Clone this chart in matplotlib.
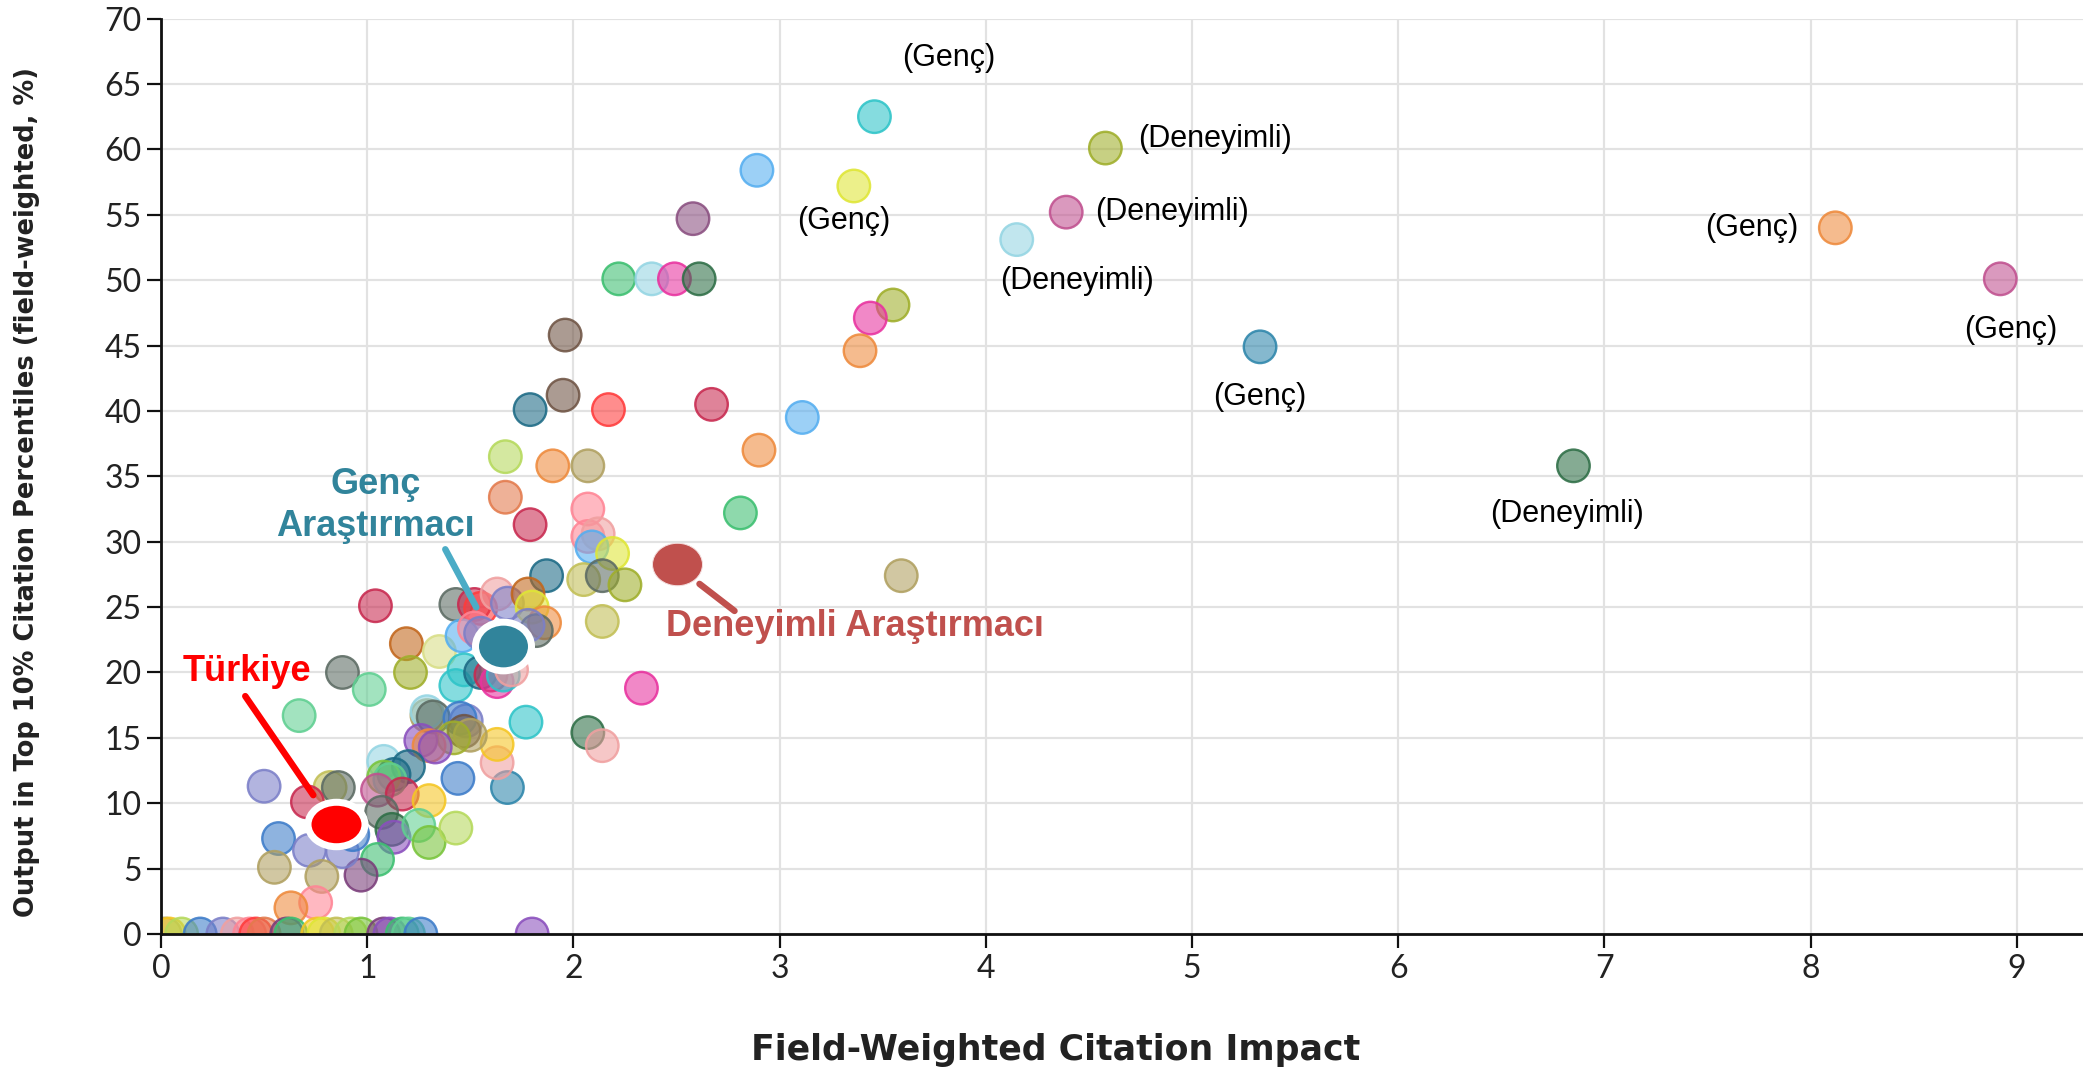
import matplotlib
matplotlib.use("Agg")
import matplotlib.pyplot as plt
from matplotlib.path import Path
from matplotlib.colors import to_rgba
from matplotlib.transforms import offset_copy

# ---------------- data ----------------
palette = {
    "cyan": "#2ec4c8", "ltblue": "#55aef0", "yellow": "#dfe635", "olive": "#9fae2a",
    "mauve": "#c0508f", "ltcyan": "#94d5e3", "plum": "#8a4f80", "orange": "#ee8a3c",
    "steel": "#2e86ab", "dkgreen": "#2e6e46", "green": "#3cbf70", "magenta": "#e8329f",
    "brown": "#6f5444", "teal": "#1c6a85", "red": "#ff3b3b", "crimson": "#c8294f",
    "ltygreen": "#b5d95b", "tan": "#b0a060", "salmon": "#e37a4c", "pink": "#ff8595",
    "ltpink": "#f0a0a0", "khaki": "#c2bf55", "gray": "#5c6b63", "gold": "#f5c623",
    "orbrown": "#c2661b", "paleyellow": "#d8de86", "ltgreen": "#5fcf91",
    "lavender": "#7b7fc8", "purple": "#8a4fbd", "blue": "#3d7cc9", "ygreen": "#78c43a",
    "dkpurple": "#7a3d7a",
}

# upper / outlying institutions
fwci_a = [3.46, 2.89, 3.36, 4.58, 4.39, 4.15, 2.58, 8.12, 8.92, 5.33, 6.85,
          2.22, 2.38, 2.49, 2.61, 3.55, 3.44, 3.39, 1.96, 1.95, 1.79, 2.17,
          2.67, 3.11, 2.90, 1.67, 1.90, 2.07, 1.67, 1.79, 2.07, 2.81, 2.07,
          2.12, 2.09, 2.19, 1.87, 2.05, 2.14, 2.25, 2.14, 3.59, 2.33, 2.07,
          2.14, 1.77, 1.68, 1.63, 1.63, 1.04, 1.19, 1.35, 1.21, 0.88, 1.01, 0.67]
top10_a = [62.5, 58.4, 57.2, 60.1, 55.2, 53.1, 54.7, 54.0, 50.1, 44.9, 35.8,
           50.1, 50.1, 50.1, 50.1, 48.1, 47.1, 44.6, 45.8, 41.2, 40.1, 40.1,
           40.5, 39.5, 37.0, 36.5, 35.8, 35.8, 33.4, 31.3, 32.5, 32.2, 30.4,
           30.6, 29.6, 29.1, 27.4, 27.1, 27.4, 26.7, 23.9, 27.4, 18.8, 15.4,
           14.4, 16.2, 11.2, 13.1, 14.5, 25.1, 22.2, 21.6, 20.0, 20.0, 18.7, 16.7]
colour_a = ["cyan", "ltblue", "yellow", "olive", "mauve", "ltcyan", "plum", "orange",
            "mauve", "steel", "dkgreen", "green", "ltcyan", "magenta", "dkgreen", "olive",
            "magenta", "orange", "brown", "brown", "teal", "red", "crimson", "ltblue",
            "orange", "ltygreen", "orange", "tan", "salmon", "crimson", "pink", "green",
            "pink", "ltpink", "ltblue", "yellow", "teal", "khaki", "gray", "olive",
            "khaki", "tan", "magenta", "dkgreen", "ltpink", "cyan", "steel", "ltpink",
            "gold", "crimson", "orbrown", "paleyellow", "olive", "gray", "ltgreen", "ltgreen"]

# cluster around the young-researcher average
fwci_b = [1.43, 1.52, 1.55, 1.63, 1.68, 1.78, 1.80, 1.86, 1.82, 1.78, 1.46, 1.52,
          1.55, 1.47, 1.43, 1.55, 1.60, 1.63, 1.66, 1.70]
top10_b = [25.2, 25.2, 24.9, 26.0, 25.3, 26.0, 25.0, 23.8, 23.2, 23.6, 22.8, 23.4,
           23.0, 20.2, 19.0, 20.0, 19.8, 19.3, 19.8, 20.2]
colour_b = ["gray", "crimson", "red", "ltpink", "lavender", "orbrown", "yellow", "orange",
            "gray", "lavender", "ltblue", "pink", "lavender", "cyan", "cyan", "teal",
            "crimson", "magenta", "cyan", "ltpink"]

# middle cluster
fwci_c = [1.29, 1.29, 1.32, 1.48, 1.45, 1.47, 1.50, 1.42, 1.26, 1.30, 1.33, 1.08,
          1.20, 1.13, 1.08, 1.11, 1.44, 1.05, 1.17, 1.30, 1.07, 1.12, 1.13, 1.25,
          1.30, 1.43, 1.05, 0.97]
top10_c = [16.7, 17.0, 16.6, 16.3, 16.5, 15.5, 15.2, 15.0, 14.8, 14.4, 14.3, 13.2,
           12.8, 12.2, 12.0, 11.8, 11.9, 11.0, 10.7, 10.2, 9.3, 8.0, 7.4, 8.3,
           7.0, 8.1, 5.7, 4.5]
colour_c = ["tan", "ltcyan", "gray", "lavender", "blue", "brown", "tan", "olive",
            "purple", "orange", "purple", "ltcyan", "teal", "teal", "ygreen", "ltgreen",
            "blue", "mauve", "crimson", "gold", "gray", "dkgreen", "purple", "ltgreen",
            "ygreen", "ltygreen", "green", "dkpurple"]

# lower-left cluster
fwci_d = [0.50, 0.82, 0.86, 0.71, 0.57, 0.72, 0.88, 0.93, 0.55, 0.78, 0.75, 0.63]
top10_d = [11.3, 11.2, 11.2, 10.1, 7.3, 6.4, 6.3, 7.6, 5.1, 4.4, 2.4, 2.0]
colour_d = ["lavender", "khaki", "gray", "crimson", "blue", "lavender", "lavender",
            "blue", "tan", "tan", "pink", "orange"]

# institutions with zero output in the top 10 %
fwci_e = [0.02, 0.04, 0.10, 0.19, 0.30, 0.37, 0.43, 0.46, 0.50, 0.61, 0.63, 0.76,
          0.79, 0.85, 0.92, 0.97, 1.08, 1.11, 1.17, 1.20, 1.26, 1.80]
top10_e = [0.0] * len(fwci_e)
colour_e = ["tan", "gold", "ltygreen", "blue", "lavender", "ltpink", "pink", "red",
            "salmon", "dkpurple", "green", "gold", "yellow", "khaki", "ltygreen",
            "ygreen", "dkpurple", "purple", "green", "ltgreen", "blue", "purple"]

# highlighted averages
highlight_names = ["Türkiye", "Genç\nAraştırmacı", "Deneyimli Araştırmacı"]
highlight_fwci = [0.85, 1.66, 2.50]
highlight_top10 = [8.4, 22.0, 28.3]

# group labels attached to single institutions (index into the "a" arrays)
group_label = ["(Genç)", "(Genç)", "(Deneyimli)", "(Deneyimli)", "(Deneyimli)",
               "(Genç)", "(Genç)", "(Genç)", "(Deneyimli)"]
group_label_point = [0, 2, 3, 4, 5, 9, 7, 8, 10]

x_ticks = list(range(0, 10))
y_ticks = list(range(0, 75, 5))

# ---------------- figure ----------------
W, H = 2083, 1070
fig = plt.figure(figsize=(W / 100, H / 100), dpi=100)
ax = fig.add_axes([161 / W, (H - 934) / H, (W - 161) / W, (934 - 18.6) / H])
px = 0.72  # points per pixel

x_all = fwci_a + fwci_b + fwci_c + fwci_d + fwci_e
y_all = top10_a + top10_b + top10_c + top10_d + top10_e
c_all = colour_a + colour_b + colour_c + colour_d + colour_e
faces = [to_rgba(palette[c], 0.58) for c in c_all]
edges = [to_rgba(palette[c], 0.88) for c in c_all]
ax.scatter(x_all, y_all, s=(32.5 * px) ** 2, facecolors=faces, edgecolors=edges,
           linewidths=2.4 * px, zorder=3)

# elliptic highlight markers
circ = Path.unit_circle()
def ell(r):
    return Path(circ.vertices * [1.0, r], circ.codes)

hl_style = [
    dict(color="#ff0000", mec="white", mew=7 * px, ms=57 * px, shape=0.78),
    dict(color="#31849b", mec="white", mew=7 * px, ms=56 * px, shape=0.87),
    dict(color="#c0504d", mec="#f4dede", mew=1.0 * px, ms=50 * px, shape=0.85),
]
for xv, yv, st in zip(highlight_fwci, highlight_top10, hl_style):
    ax.plot([xv], [yv], marker=ell(st["shape"]), ms=st["ms"], mfc=st["color"],
            mec=st["mec"], mew=st["mew"], ls="none", zorder=6, clip_on=False)

# highlight labels and leader lines (offsets in px from the point)
hl_text_col = ["#ff0000", "#31849b", "#c0504d"]
hl_line_col = ["#ff0000", "#4bacc6", "#c0504d"]
hl_text_off = [(-89, 153), (-128, 141), (-10, -63)]
hl_text_ha = ["center", "center", "left"]
hl_line = [((-91, 128), (-23, 29)), ((-58, 97), (-27, 39)), ((23, -20), (58, -47))]
for i in range(3):
    xv, yv = highlight_fwci[i], highlight_top10[i]
    ax.annotate(highlight_names[i], xy=(xv, yv), xytext=(hl_text_off[i][0] * px, hl_text_off[i][1] * px),
                textcoords="offset points", ha=hl_text_ha[i], va="center",
                fontsize=26, fontweight="bold", color=hl_text_col[i],
                family="Liberation Sans", linespacing=1.25, zorder=7)
    (sx, sy), (ex, ey) = hl_line[i]
    tr = offset_copy(ax.transData, fig=fig, x=ex * px, y=ey * px, units="points")
    ax.annotate("", xy=(xv, yv), xycoords=tr,
                xytext=((sx - ex) * px, (sy - ey) * px), textcoords="offset points",
                arrowprops=dict(arrowstyle="-", lw=6.5 * px, color=hl_line_col[i],
                                shrinkA=0, shrinkB=0), zorder=7)

# group labels
gl_off = [(74, 59), (-10, -35), (33, 9), (29, 0), (60, -41), (0, -50), (-37, 0), (10, -51), (-6, -48)]
gl_ha = ["center", "center", "left", "left", "center", "center", "right", "center", "center"]
for txt, idx, off, ha in zip(group_label, group_label_point, gl_off, gl_ha):
    ax.annotate(txt, xy=(fwci_a[idx], top10_a[idx]), xytext=(off[0] * px, off[1] * px),
                textcoords="offset points", ha=ha, va="center", fontsize=22,
                family="Liberation Sans", color="black", zorder=7)

# axes styling
ax.set_xlim(0, (W - 161) / 206.2)
ax.set_ylim(0, 70)
ax.set_xticks(x_ticks)
ax.set_yticks(y_ticks)
ax.grid(True, color="#e2e2e2", lw=2.2 * px)
ax.set_axisbelow(True)
for s in ["top", "right"]:
    ax.spines[s].set_visible(False)
for s in ["left", "bottom"]:
    ax.spines[s].set_linewidth(2.8 * px)
    ax.spines[s].set_color("#111111")
    ax.spines[s].set_zorder(4)
ax.tick_params(direction="out", length=14 * px, width=2.2 * px, color="#111111",
               labelsize=23, pad=4)
for lab in ax.get_xticklabels() + ax.get_yticklabels():
    lab.set_family("Lato")
    lab.set_color("#222222")

fig.text(27 / W, 1 - 491.5 / H, "Output in Top 10% Citation Percentiles (field-weighted, %)",
         rotation=90, ha="center", va="center", fontsize=18.5, fontweight="bold",
         family="DejaVu Sans", color="#222222")
fig.text(1056 / W, 1 - 1050 / H, "Field-Weighted Citation Impact", ha="center", va="center",
         fontsize=25, fontweight="bold", family="DejaVu Sans", color="#222222")

fig.savefig("out.png", dpi=100)
